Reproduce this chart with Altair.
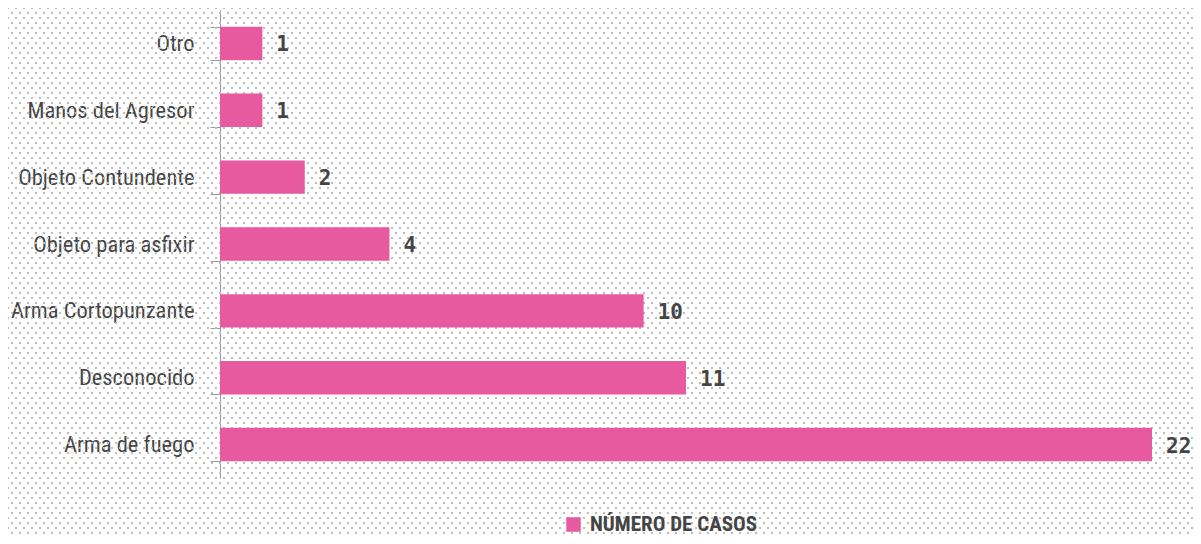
import altair as alt
import pandas as pd
import numpy as np

categorias = ["Otro", "Manos del Agresor", "Objeto Contundente", "Objeto para asfixir",
              "Arma Cortopunzante", "Desconocido", "Arma de fuego"]
valores = [1, 1, 2, 4, 10, 11, 22]
serie = "NÚMERO DE CASOS"

df = pd.DataFrame({"cat": categorias, "val": valores, "serie": [serie] * len(categorias)})

PINK = "#E75A9F"
TXT = "#444444"
LABEL_FONT = "Roboto Condensed, Roboto, sans-serif"

W, H = 932, 468
PAD_L, PAD_T, PAD_R, PAD_B = 212, 2, 41, 58

# decorative dotted background (rows of dashed rules, pixel space)
rows = pd.DataFrame({"py": np.arange(-2, 530, 5)})
rows["k"] = ((rows["py"] + 2) // 5).astype(int)
even = rows[rows["k"] % 2 == 0]
odd = rows[rows["k"] % 2 == 1]

pix = alt.Scale(domain=[0, H], range=[0, H], zero=False, nice=False)

def dots(d, offset):
    return alt.Chart(d).mark_rule(
        color="#bcbcbc", strokeWidth=2, strokeDash=[2, 6], strokeDashOffset=offset
    ).encode(
        y=alt.Y("py:Q", scale=pix, axis=None),
        x=alt.value(-PAD_L),
        x2=alt.value(W + PAD_R),
    )

xs = alt.X("val:Q", scale=alt.Scale(domain=[0, 22], nice=False), axis=None)
ys = alt.Y(
    "cat:N",
    sort=categorias,
    scale=alt.Scale(paddingInner=0.5, paddingOuter=0.25),
    axis=alt.Axis(
        title=None,
        domainColor="#9a9a9a",
        tickColor="#9a9a9a",
        tickSize=10,
        tickBand="extent",
        labelPadding=16,
        labelFont=LABEL_FONT,
        labelFontSize=22.5,
        labelColor=TXT,
        labelLimit=300,
    ),
)

bars = alt.Chart(df).mark_bar(color=PINK).encode(
    x=xs,
    y=ys,
    color=alt.Color(
        "serie:N",
        scale=alt.Scale(range=[PINK]),
        legend=alt.Legend(
            orient="none",
            legendX=343,
            legendY=504,
            title=None,
            symbolType="square",
            symbolSize=210,
            symbolStrokeWidth=0,
            labelFont=LABEL_FONT,
            labelFontSize=21,
            labelFontWeight="bold",
            labelColor=TXT,
            labelOffset=6,
            labelLimit=400,
            padding=0,
        ),
    ),
)

labels = alt.Chart(df).mark_text(
    align="left", baseline="middle", dx=14, dy=2,
    font="DejaVu Sans Mono", fontWeight="bold", fontSize=21, color=TXT,
).encode(
    x=xs,
    y=alt.Y("cat:N", sort=categorias, scale=alt.Scale(paddingInner=0.5, paddingOuter=0.25), axis=None),
    text="val:Q",
)

chart = alt.layer(dots(even, 1), dots(odd, 5), bars, labels).resolve_scale(
    y="independent"
).properties(
    width=W,
    height=H,
    autosize=alt.AutoSizeParams(type="none"),
    padding={"left": PAD_L, "top": PAD_T, "right": PAD_R, "bottom": PAD_B},
    background="white",
).configure_view(stroke=None)

chart.save("out.html", embed_options={"renderer": "svg", "actions": False})
